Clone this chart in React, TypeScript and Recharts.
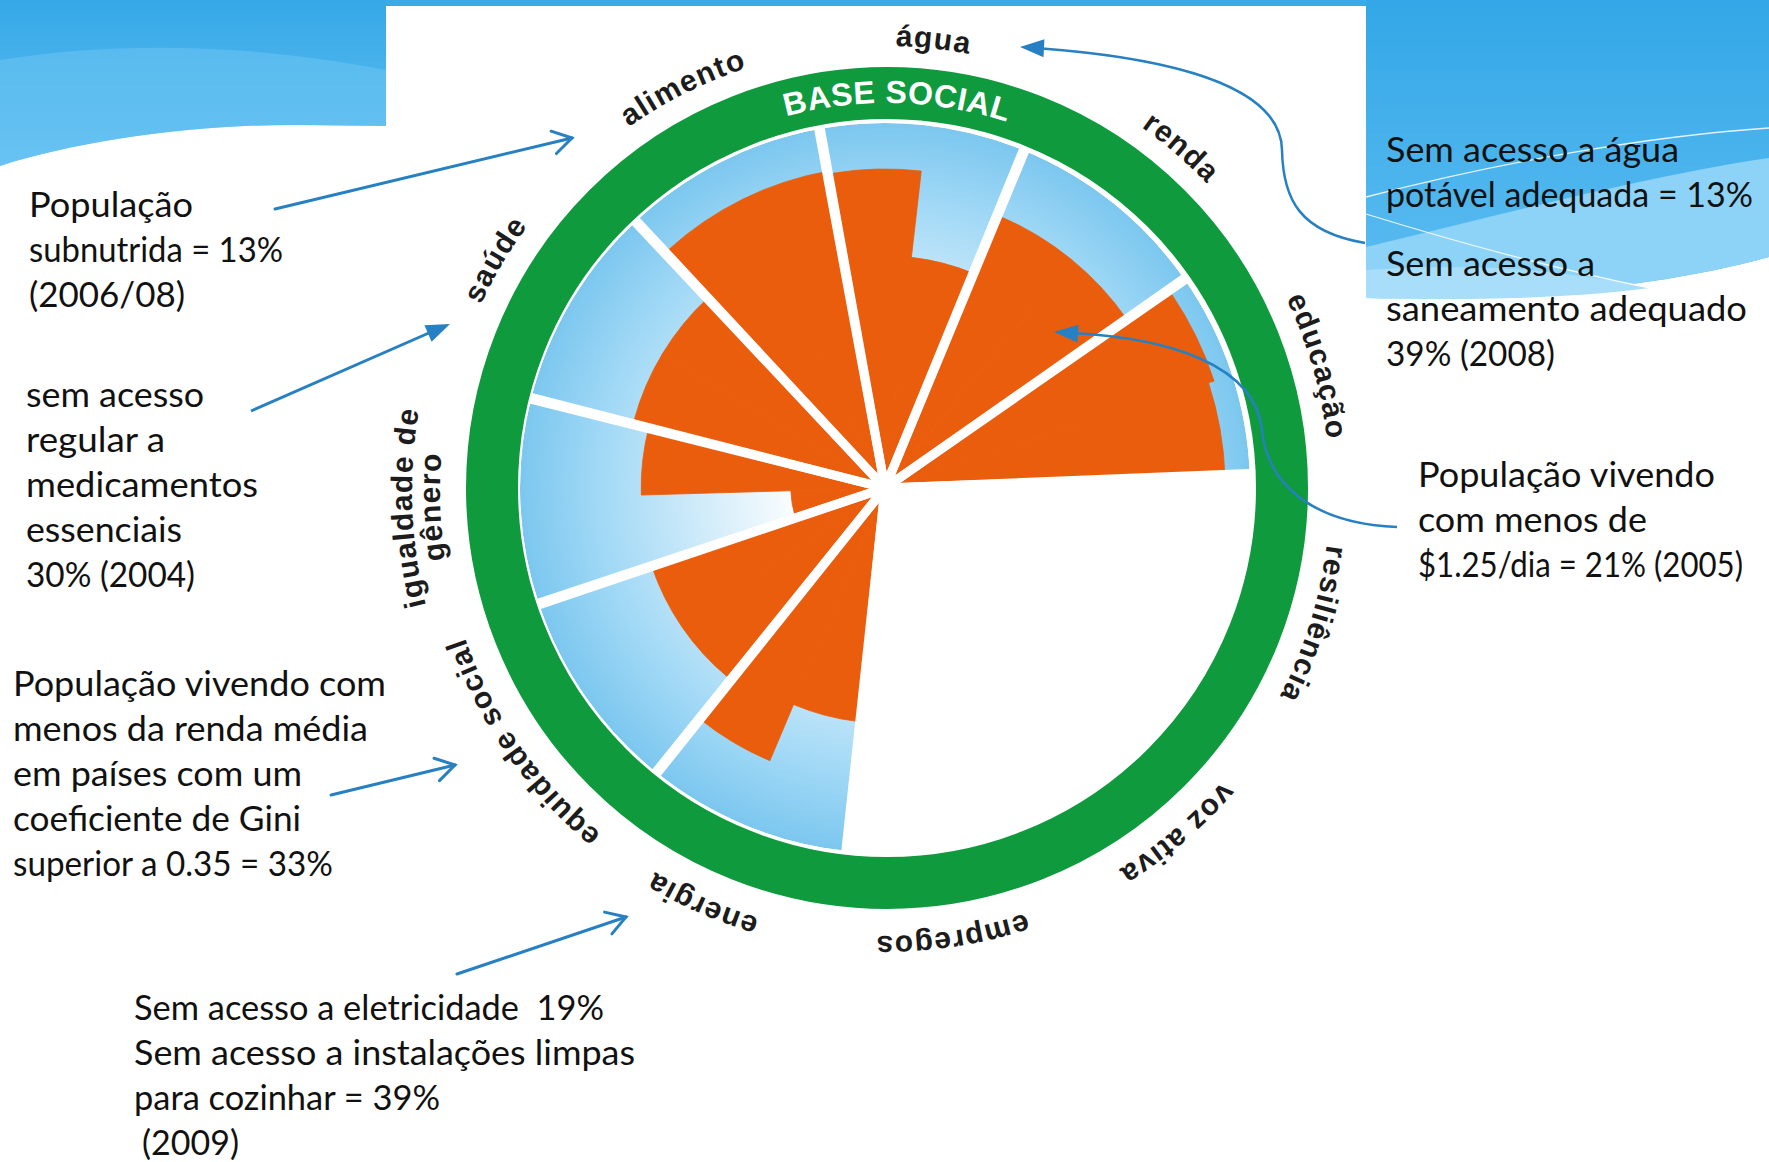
import React from 'react';
import { RadialBarChart, RadialBar, PolarAngleAxis, PolarRadiusAxis } from 'recharts';

// ---------- data ----------
const categories = [
  'água', 'renda', 'educação', 'resiliência', 'voz ativa', 'empregos',
  'energia', 'equidade social', 'igualdade de gênero', 'saúde', 'alimento',
];
const labelLines: string[][] = [
  ['água'], ['renda'], ['educação'], ['resiliência'], ['voz ativa'], ['empregos'],
  ['energia'], ['equidade social'], ['igualdade de', 'gênero'], ['saúde'], ['alimento'],
];
// social foundation (outer edge of the blue wedges = 100)
const foundation = [100, 100, 100, 0, 0, 0, 100, 100, 100, 100, 100];
// shortfall, first (counter-clockwise) half of each wedge
const shortfallFirst = [87.4, 80.8, 94.8, 0, 0, 0, 64.4, 67.4, 25.8, 71.2, 88.2];
// shortfall, second (clockwise) half of each wedge
const shortfallSecond = [63.6, 80.8, 93.2, 0, 0, 0, 81.1, 67.4, 66.8, 71.2, 88.2];
// wedge frame (white separators)
const frame = [100, 100, 100, 100, 100, 100, 100, 100, 100, 100, 100];

const data = categories.map((name, i) => ({
  name,
  foundation: foundation[i],
  first: shortfallFirst[i],
  second: shortfallSecond[i],
  frame: frame[i],
}));

const notesAlimento = ['População', 'subnutrida = 13%', '(2006/08)'];
const notesSaude = ['sem acesso', 'regular a', 'medicamentos', 'essenciais', '30% (2004)'];
const notesEquidade = ['População vivendo com', 'menos da renda média', 'em países com um', 'coeficiente de Gini', 'superior a 0.35 = 33%'];
const notesEnergia = ['Sem acesso a eletricidade  19%', 'Sem acesso a instalações limpas', 'para cozinhar = 39%', '(2009)'];
const notesAgua = ['Sem acesso a água', 'potável adequada = 13%'];
const notesSaneamento = ['Sem acesso a', 'saneamento adequado', '39% (2008)'];
const notesRenda = ['População vivendo', 'com menos de', '$1.25/dia = 21% (2005)'];

// ---------- layout ----------
const W = 1769;
const H = 1162;
const CX = 885;
const CY = 488;
const R = 365;
const RING_CX = 887;
const RING_CY = 488;
const START = 100.2; // compass -10.2° (edge between alimento and água)
const STEP = 360 / 11;
const CHART_START = START - STEP;
const LABEL_R = 445;
const LABEL_CY = CY + 3;
// small clockwise nudges (degrees) of the curved labels
const labelNudge = [0, 1.9, 2.3, 2.9, 2.5, 1.6, 1.3, 0, 0, 0, 0];
const RAD = Math.PI / 180;

const GREEN = '#0f9a3e';
const ORANGE = '#e95d0d';
const ARROW = '#2680c2';

// rendered widths of the note lines (px)
const wAlimento = [164, 254, 156];
const wSaude = [178, 139, 232, 156, 169];
const wEquidade = [373, 355, 289, 288, 320];
const wEnergia = [470, 501, 306, 97];
const wAgua = [293, 367];
const wSaneamento = [209, 361, 169];
const wRenda = [297, 229, 325];

const polar = (cx: number, cy: number, r: number, deg: number) => ({
  x: cx + r * Math.cos(deg * RAD),
  y: cy - r * Math.sin(deg * RAD),
});

const CurvedTick = (props: any) => {
  let idx = typeof props.index === 'number' ? props.index : -1;
  if (props.payload && categories.indexOf(props.payload.value) >= 0) {
    idx = categories.indexOf(props.payload.value);
  }
  const lines = labelLines[idx];
  if (!lines) return null;
  const center = START - (idx + 0.5) * STEP - labelNudge[idx];
  return (
    <g>
      {lines.map((line, j) => {
        const r = LABEL_R + (lines.length - 1 - j) * 28;
        const p0 = polar(CX, LABEL_CY, r, center + 50);
        const p1 = polar(CX, LABEL_CY, r, center - 50);
        const id = `lbl-${idx}-${j}`;
        return (
          <g key={id}>
            <path id={id} d={`M ${p0.x} ${p0.y} A ${r} ${r} 0 0 1 ${p1.x} ${p1.y}`} fill="none" stroke="none" />
            <text
              fontFamily="'Liberation Sans', Arial, sans-serif"
              fontWeight="bold"
              fontSize={30}
              letterSpacing={1.2}
              fill="#1c1c1c"
            >
              <textPath href={`#${id}`} startOffset="50%" textAnchor="middle">
                {line}
              </textPath>
            </text>
          </g>
        );
      })}
    </g>
  );
};

const chartProps = {
  width: W,
  height: H,
  cx: CX,
  cy: CY,
  innerRadius: 0,
  startAngle: CHART_START,
  endAngle: CHART_START - 360,
  data,
  layout: 'centric' as const,
  barCategoryGap: 0,
  barGap: 0,
  margin: { top: 0, right: 0, bottom: 0, left: 0 },
};

const layer: React.CSSProperties = { position: 'absolute', left: 0, top: 0, width: W, height: H };

const Chevron = ({ x1, y1, x2, y2 }: { x1: number; y1: number; x2: number; y2: number }) => {
  const a = Math.atan2(y2 - y1, x2 - x1);
  const L = 22;
  const s = 0.55;
  const pA = { x: x2 - L * Math.cos(a - s), y: y2 - L * Math.sin(a - s) };
  const pB = { x: x2 - L * Math.cos(a + s), y: y2 - L * Math.sin(a + s) };
  return (
    <g stroke={ARROW} strokeWidth={3} fill="none" strokeLinecap="round">
      <line x1={x1} y1={y1} x2={x2} y2={y2} />
      <polyline points={`${pA.x},${pA.y} ${x2},${y2} ${pB.x},${pB.y}`} />
    </g>
  );
};

const Triangle = ({ fx, fy, x, y }: { fx: number; fy: number; x: number; y: number }) => {
  const a = Math.atan2(y - fy, x - fx);
  const L = 24;
  const w = 9;
  const bx = x - L * Math.cos(a);
  const by = y - L * Math.sin(a);
  const pA = { x: bx + w * Math.sin(a), y: by - w * Math.cos(a) };
  const pB = { x: bx - w * Math.sin(a), y: by + w * Math.cos(a) };
  return <polygon points={`${x},${y} ${pA.x},${pA.y} ${pB.x},${pB.y}`} fill={ARROW} />;
};

const Note = ({ x, y, lines, widths }: { x: number; y: number; lines: string[]; widths: number[] }) => (
  <g>
    {lines.map((l, i) => (
      <text
        key={i}
        x={x}
        y={y + i * 45}
        fontFamily="Lato, 'Open Sans', sans-serif"
        fontSize={35}
        fill="#111"
        style={{ whiteSpace: 'pre' }}
        textLength={widths[i]}
        lengthAdjust="spacingAndGlyphs"
      >
        {l}
      </text>
    ))}
  </g>
);

export default function App() {
  const basePath = (() => {
    const r = 385;
    const p0 = polar(RING_CX, RING_CY, r, 88.5 + 40);
    const p1 = polar(RING_CX, RING_CY, r, 88.5 - 40);
    return `M ${p0.x} ${p0.y} A ${r} ${r} 0 0 1 ${p1.x} ${p1.y}`;
  })();

  return (
    <div style={{ position: 'absolute', left: 0, top: 0, width: W, height: H, overflow: 'hidden', background: '#fff' }}>
      {/* background */}
      <svg style={layer} width={W} height={H}>
        <defs>
          <radialGradient id="foundationBlue" gradientUnits="userSpaceOnUse" cx={CX} cy={CY} r={R}>
            <stop offset="0" stopColor="#ffffff" />
            <stop offset="0.22" stopColor="#ffffff" />
            <stop offset="0.5" stopColor="#d2ecfa" />
            <stop offset="0.78" stopColor="#a2d9f6" />
            <stop offset="1" stopColor="#7cc7ef" />
          </radialGradient>
          <linearGradient id="skyL" x1="0" y1="0" x2="0" y2="1">
            <stop offset="0" stopColor="#35a8e7" />
            <stop offset="1" stopColor="#62c0f2" />
          </linearGradient>
          <linearGradient id="skyR" x1="0" y1="0" x2="0" y2="1">
            <stop offset="0" stopColor="#33a7e7" />
            <stop offset="1" stopColor="#5dbdf1" />
          </linearGradient>
        </defs>
        <rect x={386} y={0} width={980} height={6} fill="#3aaae8" />
        <path d="M0 0 H386 V126 L300 125 C200 124 80 140 0 166 Z" fill="url(#skyL)" />
        <path d="M0 60 C120 40 260 45 386 70 V126 L300 125 C200 124 80 140 0 166 Z" fill="#6cc4f3" opacity={0.55} />
        <path d="M1366 0 H1769 V257 C1650 290 1500 300 1366 298 Z" fill="url(#skyR)" />
        <path d="M1366 247 C1500 215 1650 175 1769 158 V257 C1650 290 1500 300 1366 298 Z" fill="#8dd2f7" />
        <path d="M1366 270 C1480 262 1560 270 1650 288 C1560 300 1450 300 1366 298 Z" fill="#a9defa" />
        <path d="M1366 197 C1500 162 1650 136 1769 128" fill="none" stroke="#ffffff" strokeWidth={1.3} opacity={0.85} />
        <path d="M1366 214 C1450 240 1550 268 1650 288" fill="none" stroke="#ffffff" strokeWidth={1.3} opacity={0.85} />
      </svg>

      {/* social foundation (blue) */}
      <div style={layer}>
        <RadialBarChart {...chartProps} outerRadius={R}>
          <PolarAngleAxis dataKey="name" type="category" axisLine={false} tickLine={false} tick={false} />
          <PolarRadiusAxis type="number" domain={[0, 100]} axisLine={false} tick={false} tickLine={false} />
          <RadialBar dataKey="foundation" fill="url(#foundationBlue)" isAnimationActive={false} />
        </RadialBarChart>
      </div>

      {/* shortfall (orange): first bar in JSX takes the clockwise half */}
      <div style={layer}>
        <RadialBarChart {...chartProps} outerRadius={R}>
          <PolarAngleAxis dataKey="name" type="category" axisLine={false} tickLine={false} tick={false} />
          <PolarRadiusAxis type="number" domain={[0, 100]} axisLine={false} tick={false} tickLine={false} />
          <RadialBar dataKey="second" fill={ORANGE} stroke={ORANGE} strokeWidth={0.8} isAnimationActive={false} />
          <RadialBar dataKey="first" fill={ORANGE} stroke={ORANGE} strokeWidth={0.8} isAnimationActive={false} />
        </RadialBarChart>
      </div>

      {/* separators + labels */}
      <div style={layer}>
        <RadialBarChart {...chartProps} outerRadius={R + 4.5}>
          <PolarAngleAxis
            dataKey="name"
            type="category"
            axisLine={false}
            tickLine={false}
            tick={(p: any) => <CurvedTick {...p} />}
          />
          <PolarRadiusAxis type="number" domain={[0, 100]} axisLine={false} tick={false} tickLine={false} />
          <RadialBar
            dataKey="frame"
            fill="none"
            stroke="#ffffff"
            strokeWidth={9}
            strokeLinejoin="round"
            isAnimationActive={false}
          />
        </RadialBarChart>
      </div>

      {/* ring, texts, arrows */}
      <svg style={{ ...layer, pointerEvents: 'none' }} width={W} height={H}>
        <circle cx={RING_CX} cy={RING_CY} r={395} fill="none" stroke={GREEN} strokeWidth={52} />
        <path id="baseSocialPath" d={basePath} fill="none" stroke="none" />
        <text fontFamily="'Liberation Sans', Arial, sans-serif" fontWeight="bold" fontSize={32} fill="#ffffff" letterSpacing={0.5}>
          <textPath href="#baseSocialPath" startOffset="50%" textAnchor="middle">
            BASE SOCIAL
          </textPath>
        </text>

        <Note x={29} y={217} lines={notesAlimento} widths={wAlimento} />
        <Note x={26} y={407} lines={notesSaude} widths={wSaude} />
        <Note x={13} y={696} lines={notesEquidade} widths={wEquidade} />
        <Note x={134} y={1020} lines={notesEnergia.slice(0, 3)} widths={wEnergia} />
        <Note x={142} y={1155} lines={notesEnergia.slice(3)} widths={wEnergia.slice(3)} />
        <Note x={1386} y={162} lines={notesAgua} widths={wAgua} />
        <Note x={1386} y={276} lines={notesSaneamento} widths={wSaneamento} />
        <Note x={1418} y={487} lines={notesRenda} widths={wRenda} />

        <Chevron x1={275} y1={209} x2={572} y2={138} />
        <line x1={251} y1={411} x2={438} y2={329} stroke={ARROW} strokeWidth={3} />
        <Triangle fx={251} fy={411} x={450} y={324} />
        <Chevron x1={331} y1={795} x2={455} y2={765} />
        <Chevron x1={457} y1={974} x2={626} y2={917} />

        <path d="M1365 243 C1300 232 1283 200 1282 150 C1281 95 1200 60 1036 48" fill="none" stroke={ARROW} strokeWidth={2.5} />
        <Triangle fx={1040} fy={48} x={1020} y={47} />
        <path d="M1397 527 C1320 524 1268 490 1262 430 C1255 365 1170 338 1072 333" fill="none" stroke={ARROW} strokeWidth={2.5} />
        <Triangle fx={1076} fy={333.5} x={1054} y={332} />
      </svg>
    </div>
  );
}
